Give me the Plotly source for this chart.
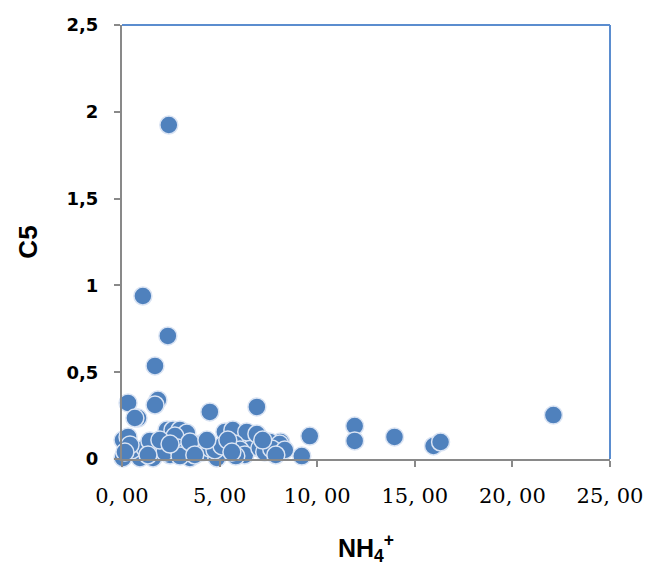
import plotly.graph_objects as go

nh4 = [2.40, 1.07, 2.35, 1.69, 0.31, 1.84, 1.69, 0.82, 0.66, 4.50,
       6.91, 11.92, 11.92, 13.96, 9.62, 8.13, 9.21, 15.96, 16.32, 22.10,
       7.57, 8.08, 6.55, 6.70, 5.37, 5.27, 5.68, 6.39, 6.91, 2.30,
       2.61, 2.97, 3.32, 2.71, 0.05, 0.31, 0.05, 0.92, 1.59, 2.46,
       3.48, 4.14, 4.86, 0.51, 1.18, 1.94, 2.20, 2.86, 3.22, 3.73,
       3.99, 4.50, 4.76, 5.12, 5.78, 6.04, 6.29, 7.06, 7.31, 7.67,
       8.34, 5.83, 2.97, 0.41, 1.43, 3.48, 4.35, 5.42, 7.21, 1.94,
       2.46, 0.15, 1.33, 3.73, 5.63, 7.88]
c5 = [1.924, 0.939, 0.709, 0.536, 0.323, 0.340, 0.311, 0.236, 0.236, 0.271,
      0.300, 0.190, 0.104, 0.127, 0.132, 0.098, 0.017, 0.075, 0.098, 0.253,
      0.098, 0.086, 0.092, 0.069, 0.063, 0.156, 0.167, 0.156, 0.144, 0.167,
      0.167, 0.167, 0.150, 0.132, 0.109, 0.127, 0.006, 0.006, 0.006, 0.023,
      0.006, 0.040, 0.006, 0.052, 0.063, 0.069, 0.040, 0.063, 0.040, 0.075,
      0.086, 0.063, 0.052, 0.075, 0.086, 0.052, 0.023, 0.063, 0.040, 0.058,
      0.052, 0.017, 0.017, 0.081, 0.104, 0.098, 0.109, 0.109, 0.109, 0.109,
      0.086, 0.040, 0.023, 0.023, 0.040, 0.023]

x_tickvals = [0, 5, 10, 15, 20, 25]
x_ticktext = ["0, 00", "5, 00", "10, 00", "15, 00", "20, 00", "25, 00"]
y_tickvals = [0, 0.5, 1, 1.5, 2, 2.5]
y_ticktext = ["0", "0,5", "1", "1,5", "2", "2,5"]

fig = go.Figure()
fig.add_trace(go.Scatter(
    x=nh4, y=c5, mode="markers",
    marker=dict(size=18, color="#4F81BD",
                line=dict(color="#D9E3F3", width=1.5)),
    showlegend=False, cliponaxis=False,
))

fig.update_layout(
    width=645, height=570,
    margin=dict(l=122, r=35, t=25, b=111),
    paper_bgcolor="white", plot_bgcolor="white",
    xaxis=dict(range=[0, 25], tickvals=x_tickvals, ticktext=x_ticktext,
               automargin=False,
               showgrid=False, zeroline=False, showline=True,
               linecolor="#898989", linewidth=2, ticks="outside",
               ticklen=6, tickwidth=2, tickcolor="#898989",
               ticklabelstandoff=11,
               tickfont=dict(family="DejaVu Serif", size=21, color="black"),
               title=dict(text="<b>NH<sub>4</sub><sup>+</sup></b>", standoff=32,
                          font=dict(family="Liberation Sans", size=25, color="black"))),
    yaxis=dict(range=[0, 2.5], tickvals=y_tickvals, ticktext=y_ticktext,
               automargin=False,
               showgrid=False, zeroline=False, showline=True,
               linecolor="#898989", linewidth=2, ticks="outside",
               ticklen=6, tickwidth=2, tickcolor="#898989",
               ticklabelstandoff=12,
               tickfont=dict(family="DejaVu Sans", size=18, color="black", weight="bold"),
               title=dict(text="<b>C5</b>", standoff=21,
                          font=dict(family="Liberation Sans", size=26, color="black"))),
    shapes=[
        dict(type="line", xref="paper", yref="paper", x0=0, x1=1, y0=1, y1=1,
             line=dict(color="#5B8DCF", width=2)),
        dict(type="line", xref="paper", yref="paper", x0=1, x1=1, y0=0, y1=1,
             line=dict(color="#5B8DCF", width=2)),
    ],
)

fig.write_html("out.html", config={"displayModeBar": False},
               post_script="document.body.style.margin='0';document.body.style.overflow='hidden';")
